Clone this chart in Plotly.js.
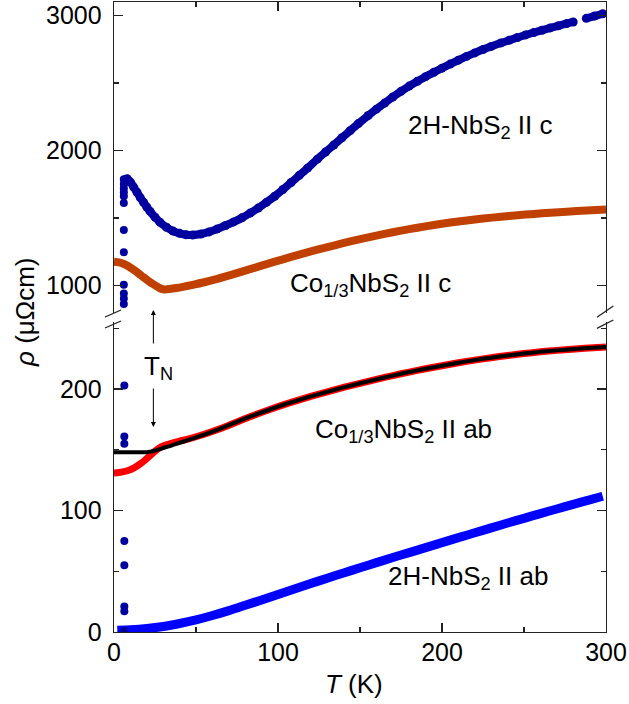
<!DOCTYPE html>
<html><head><meta charset="utf-8">
<script src="https://cdn.plot.ly/plotly-3.0.1.min.js"></script>
<style>html,body{margin:0;padding:0;background:#fff}</style>
</head><body><div id="chart" style="width:629px;height:704px"></div>
<script>
// 2H-NbS2 || c  (dark blue markers)
const T_2Hc   = [7,8,10,12,14,16,18,20,22,25,28,32,36,40,44,48,53,58,63,68,73,78,83,88,93,98,103,108,113,118,124,129,134,139,144,149,155,160,165,170,175,180,185,190,195,200,205,210,215,220,225,230,236,241,246,251,256,261,266,271,276,280,null,288,293,298];
const rho_2Hc = [1780,1790,1765,1728,1690,1650,1615,1580,1548,1505,1468,1430,1402,1385,1375,1373,1380,1396,1418,1443,1470,1500,1535,1573,1615,1660,1710,1762,1815,1868,1935,1988,2040,2093,2146,2198,2258,2305,2350,2395,2437,2476,2512,2546,2578,2609,2639,2668,2696,2722,2747,2770,2796,2816,2836,2855,2873,2890,2907,2923,2939,2951,null,2978,2995,3012];
// 2H-NbS2 || c  superconducting transition points
const T_2Hc_tr   = [6,6,6,6,6,6,6,6,6,6,6,6,6.3,6.3,6.3,6.3,6.3,6.3,6.3,6.3];
const rho_2Hc_tr = [1785,1750,1720,1690,1660,1610,1410,1245,1005,940,902,862,203,161,155,75,55,21,17,1];
// Co1/3NbS2 || c  (orange)
const T_Coc   = [0,3,6,9,12,15,18,21,24,27,29,31,34,38,42,48,55,63,73,83,93,103,114,124,134,144,155,165,175,185,195,205,215,225,236,246,256,266,276,288,300];
const rho_Coc = [1175,1170,1158,1140,1115,1088,1060,1033,1008,986,974,970,973,980,989,1004,1023,1048,1083,1120,1157,1193,1231,1264,1295,1325,1355,1381,1405,1427,1447,1465,1481,1495,1508,1519,1529,1538,1546,1554,1561];
// Co1/3NbS2 || ab  (red, measured)
const T_Coab   = [0,3,6,9,12,15,18,21,24,27,30,35,40,45,55,65,75,85,95,105,115,125,135,145,155,165,175,185,195,205,215,225,235,245,255,265,275,287,300];
const rho_Coab = [131,131.3,132,133.2,135,137.5,140.5,144,147.8,151,153.2,155.3,157.2,158.8,162.8,167.5,173,178.3,183.2,187.8,192,195.9,199.6,203.1,206.4,209.6,212.6,215.4,218,220.5,222.8,224.9,226.8,228.5,230,231.3,232.4,233.6,234.7];
// Co1/3NbS2 || ab  (black, fit)
const T_Coab_fit   = [0,5,10,15,20,22,24,26,28,31,35,40,45,55,65,75,85,95,105,115,125,135,145,155,165,175,185,195,205,215,225,235,245,255,265,275,287,300];
const rho_Coab_fit = [148,148,148,148,148,148.4,149,149.7,150.5,151.9,153.5,155.8,158,162.5,167.5,173,178.3,183.2,187.8,192,195.9,199.6,203.1,206.4,209.6,212.6,215.4,218,220.5,222.8,224.9,226.8,228.5,230,231.3,232.4,233.6,234.7];
// 2H-NbS2 || ab  (blue)
const T_2Hab   = [2,10,20,30,40,50,60,70,80,90,100,110,120,130,140,150,160,170,180,190,200,210,220,230,240,250,260,270,280,290,298];
const rho_2Hab = [1.5,1.8,2.8,4.5,7,10,13.6,17.6,22,26.4,30.9,35.4,39.9,44.3,48.6,52.9,57.1,61.3,65.4,69.5,73.6,77.7,81.7,85.7,89.7,93.6,97.5,101.3,105.1,108.8,111.8];

const xTickVals = [0,100,200,300];
const yTopTicks = [1000,2000,3000];
const yBotTicks = [0,100,200];
const labels = {
  Hc: '2H-NbS<sub>2</sub> II c',
  Coc: 'Co<sub>1/3</sub>NbS<sub>2</sub> II c',
  Coab: 'Co<sub>1/3</sub>NbS<sub>2</sub> II ab',
  Hab: '2H-NbS<sub>2</sub> II ab',
  TN: 'T<sub>N</sub>',
  ytitle: '<i>ρ</i> (μΩcm)',
  xtitle: '<i>T</i> (K)'
};

const TOP_RANGE = [793, 3099];
const BOT_RANGE = [0, 255];

const trTopT = [], trTopR = [], trBotT = [], trBotR = [];
rho_2Hc_tr.forEach((r, i) => {
  if (r >= TOP_RANGE[0]) { trTopT.push(T_2Hc_tr[i]); trTopR.push(r); }
  else { trBotT.push(T_2Hc_tr[i]); trBotR.push(r); }
});

const FONT = 'Liberation Sans, Arial, sans-serif';
const DB = '#0000A0';

const traces = [
  {x: T_Coc, y: rho_Coc, xaxis: 'x2', yaxis: 'y2', mode: 'lines', line: {color: '#C04000', width: 8, shape: 'spline', smoothing: 0.8}},
  {x: T_2Hc, y: rho_2Hc, xaxis: 'x2', yaxis: 'y2', mode: 'lines+markers', connectgaps: false,
   line: {color: DB, width: 8, shape: 'spline', smoothing: 0.8}, marker: {color: DB, size: 9}},
  {x: trTopT, y: trTopR, xaxis: 'x2', yaxis: 'y2', mode: 'markers', marker: {color: DB, size: 8}},
  {x: T_Coab, y: rho_Coab, xaxis: 'x', yaxis: 'y', mode: 'lines', line: {color: '#FF0000', width: 7, shape: 'spline', smoothing: 0.8}},
  {x: T_Coab_fit, y: rho_Coab_fit, xaxis: 'x', yaxis: 'y', mode: 'lines', line: {color: '#000000', width: 4, shape: 'spline', smoothing: 0.8}},
  {x: T_2Hab, y: rho_2Hab, xaxis: 'x', yaxis: 'y', mode: 'lines', line: {color: '#0000FF', width: 9, shape: 'spline', smoothing: 0.8}},
  {x: trBotT, y: trBotR, xaxis: 'x', yaxis: 'y', mode: 'markers', marker: {color: DB, size: 8}}
];

const axCommon = {
  showgrid: false, zeroline: false, showline: true, linecolor: '#222', linewidth: 1.3,
  ticks: 'inside', ticklen: 9, tickwidth: 1.3, tickcolor: '#222',
  tickfont: {family: FONT, size: 25, color: '#000'}
};

const px2paperX = px => (px - 114) / 492;
const px2paperY = py => (632 - py) / 630;

const breakLine = (x0, y0, x1, y1) => ({type: 'line', xref: 'paper', yref: 'paper',
  x0: px2paperX(x0), y0: px2paperY(y0), x1: px2paperX(x1), y1: px2paperY(y1),
  line: {color: '#222', width: 1.3}});

const txtFont = {family: FONT, size: 26, color: '#000'};

const layout = {
  width: 629, height: 704,
  margin: {l: 114, r: 23, t: 2, b: 72, pad: 0},
  paper_bgcolor: '#fff', plot_bgcolor: 'rgba(0,0,0,0)',
  showlegend: false,
  xaxis: Object.assign({}, axCommon, {domain: [0, 1], anchor: 'y', range: [0, 300], tickvals: xTickVals,
    ticklabelstandoff: -2,
    minor: {dtick: 50, tick0: 0, ticks: 'inside', ticklen: 5, tickwidth: 1.3, tickcolor: '#222'}}),
  xaxis2: Object.assign({}, axCommon, {domain: [0, 1], anchor: 'y2', matches: 'x', range: [0, 300], side: 'top',
    tickvals: xTickVals, showticklabels: false,
    minor: {dtick: 50, tick0: 0, ticks: 'inside', ticklen: 5, tickwidth: 1.3, tickcolor: '#222'}}),
  yaxis: Object.assign({}, axCommon, {domain: [0, 0.4916], anchor: 'x', range: BOT_RANGE, tickvals: yBotTicks,
    mirror: 'ticks', ticklabelstandoff: 6,
    minor: {dtick: 50, tick0: 0, ticks: 'inside', ticklen: 5, tickwidth: 1.3, tickcolor: '#222'}}),
  yaxis2: Object.assign({}, axCommon, {domain: [0.5059, 1], anchor: 'x2', range: TOP_RANGE, tickvals: yTopTicks,
    mirror: 'ticks', ticklabelstandoff: 6,
    minor: {dtick: 500, tick0: 0, ticks: 'inside', ticklen: 5, tickwidth: 1.3, tickcolor: '#222'}}),
  shapes: [
    breakLine(105, 317, 121, 310), breakLine(105, 328, 121, 321),
    breakLine(597, 317.3, 613.3, 306), breakLine(597, 328.3, 613.3, 320)
  ],
  annotations: [
    {text: labels.Hc, xref: 'x2', yref: 'y2', x: 223.2, y: 2180, xanchor: 'center', yanchor: 'middle', showarrow: false, font: txtFont},
    {text: labels.Coc, xref: 'x2', yref: 'y2', x: 156.4, y: 1003, xanchor: 'center', yanchor: 'middle', showarrow: false, font: txtFont},
    {text: labels.Coab, xref: 'x', yref: 'y', x: 176.8, y: 165.5, xanchor: 'center', yanchor: 'middle', showarrow: false, font: txtFont},
    {text: labels.Hab, xref: 'x', yref: 'y', x: 215.9, y: 44.5, xanchor: 'center', yanchor: 'middle', showarrow: false, font: txtFont},
    {text: labels.TN, xref: 'paper', yref: 'paper', x: px2paperX(142), y: px2paperY(368), xanchor: 'left', yanchor: 'middle', showarrow: false, font: txtFont},
    {text: '', xref: 'x', yref: 'paper', x: 24, y: px2paperY(310), ax: 0, ay: 35, showarrow: true, arrowhead: 2, arrowsize: 1, arrowwidth: 1, arrowcolor: '#000'},
    {text: '', xref: 'x', yref: 'paper', x: 24, y: px2paperY(427), ax: 0, ay: -40, showarrow: true, arrowhead: 2, arrowsize: 1, arrowwidth: 1, arrowcolor: '#000'},
    {text: labels.ytitle, xref: 'paper', yref: 'paper', x: px2paperX(25), y: px2paperY(312), xanchor: 'center', yanchor: 'middle', textangle: -90, showarrow: false, font: txtFont},
    {text: labels.xtitle, xref: 'paper', yref: 'paper', x: px2paperX(354), y: px2paperY(684), xanchor: 'center', yanchor: 'middle', showarrow: false, font: txtFont}
  ]
};

Plotly.newPlot('chart', traces, layout, {staticPlot: true, displayModeBar: false});
</script>
</body></html>
